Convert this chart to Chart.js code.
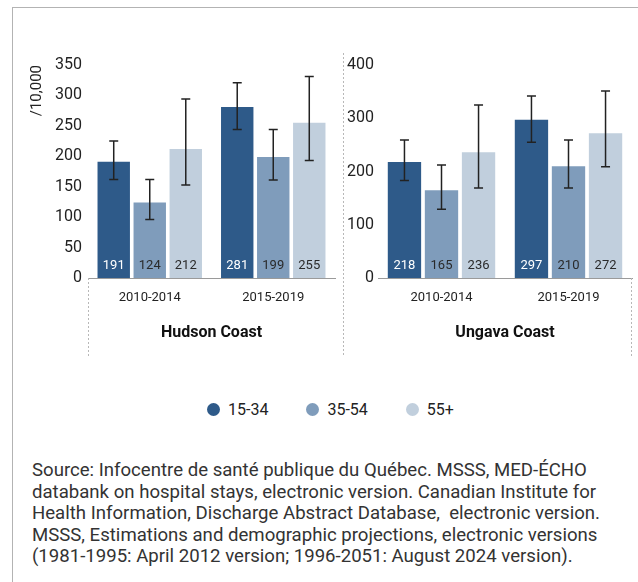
<!DOCTYPE html>
<html>
<head>
<meta charset="utf-8">
<script src="https://cdn.jsdelivr.net/npm/chart.js@4.4.1/dist/chart.umd.min.js"></script>
<style>
  body { margin: 0; background: #fff; font-family: Roboto, sans-serif; }
  #frame { position: absolute; left: 12px; top: 7px; width: 640px; height: 590px; border-left: 1px solid #b3b3b3; border-top: 1px solid #b3b3b3; }
  #hudson { position: absolute; left: 12px; top: 8px; }
  #ungava { position: absolute; left: 343px; top: 8px; }
  #legend { position: absolute; left: 207px; top: 400px; display: flex; gap: 38px; font-size: 16px; color: #222; line-height: 20px; }
  #legend span.dot { display: inline-block; width: 13px; height: 13px; border-radius: 50%; margin-right: 8px; vertical-align: -1px; }
  #source { position: absolute; left: 32px; top: 460px; font-size: 18.6px; line-height: 21.5px; color: #333; white-space: pre; }
</style>
</head>
<body>
<div id="frame"></div>
<canvas id="hudson" width="331" height="370"></canvas>
<canvas id="ungava" width="295" height="370"></canvas>
<div id="legend"></div>
<div id="source">Source: Infocentre de santé publique du Québec. MSSS, MED-ÉCHO
databank on hospital stays, electronic version. Canadian Institute for
Health Information, Discharge Abstract Database,  electronic version.
MSSS, Estimations and demographic projections, electronic versions
(1981-1995: April 2012 version; 1996-2051: August 2024 version).</div>

<script>
// data
const periods = ['2010-2014', '2015-2019'];
const ageGroups = ['15-34', '35-54', '55+'];
const ageColors = ['#2e5a89', '#7f9cbb', '#c1cfdd'];
const labelColors = ['#ffffff', '#2a2a2a', '#2a2a2a'];

// rates /10,000, one row per age group, one column per period
const hudsonValues = [[191, 281], [124, 199], [212, 255]];
const hudsonLower = [[162, 244], [96, 161], [153, 193]];
const hudsonUpper = [[225, 321], [162, 244], [294, 331]];

const ungavaValues = [[218, 297], [165, 210], [236, 272]];
const ungavaLower = [[183, 255], [129, 169], [169, 209]];
const ungavaUpper = [[259, 342], [212, 259], [325, 351]];

const FONT = 'Roboto';

// error bars from the lower/upper arrays
const errorBarPlugin = {
    id: 'errorBars',
    afterDatasetsDraw(chart, args, opts) {
        const { ctx } = chart;
        const y = chart.scales.y;
        ctx.save();
        ctx.strokeStyle = '#222';
        ctx.lineWidth = 1.5;
        chart.data.datasets.forEach((ds, i) => {
            chart.getDatasetMeta(i).data.forEach((bar, j) => {
                const top = y.getPixelForValue(opts.upper[i][j]);
                const bot = y.getPixelForValue(opts.lower[i][j]);
                ctx.beginPath();
                ctx.moveTo(bar.x, top); ctx.lineTo(bar.x, bot);
                ctx.moveTo(bar.x - 4.5, top); ctx.lineTo(bar.x + 4.5, top);
                ctx.moveTo(bar.x - 4.5, bot); ctx.lineTo(bar.x + 4.5, bot);
                ctx.stroke();
            });
        });
        ctx.restore();
    }
};

// value written at the foot of each bar
const barLabelPlugin = {
    id: 'barLabels',
    afterDatasetsDraw(chart) {
        const { ctx } = chart;
        const base = chart.scales.y.getPixelForValue(0);
        ctx.save();
        ctx.font = '13px ' + FONT;
        ctx.textAlign = 'center';
        ctx.textBaseline = 'middle';
        chart.data.datasets.forEach((ds, i) => {
            ctx.fillStyle = labelColors[i];
            chart.getDatasetMeta(i).data.forEach((bar, j) => {
                ctx.fillText(ds.data[j], bar.x, base - 12.5);
            });
        });
        ctx.restore();
    }
};

// dotted separators of the category axis
const dottedPlugin = {
    id: 'dotted',
    afterDraw(chart, args, opts) {
        const { ctx, chartArea } = chart;
        ctx.save();
        ctx.strokeStyle = '#b8b8b8';
        ctx.lineWidth = 1;
        ctx.setLineDash([2, 2]);
        ctx.beginPath();
        if (opts.left) {
            ctx.moveTo(chartArea.left + 0.5, chartArea.bottom);
            ctx.lineTo(chartArea.left + 0.5, 349);
        }
        if (opts.divider) {
            ctx.moveTo(0.5, 45);
            ctx.lineTo(0.5, 349);
        }
        if (opts.right) {
            ctx.moveTo(chartArea.right - 0.5, chartArea.bottom);
            ctx.lineTo(chartArea.right - 0.5, 349);
        }
        ctx.stroke();
        ctx.restore();
    }
};

function renderPanel(id, title, values, lower, upper, yMax, yStep, axisWidth, tickPad, padRight, yTitle, lines) {
    const ctx = document.getElementById(id).getContext('2d');
    return new Chart(ctx, {
        type: 'bar',
        data: {
            labels: periods,
            datasets: ageGroups.map((g, i) => ({
                label: g,
                data: values[i],
                backgroundColor: ageColors[i],
                categoryPercentage: 0.875,
                barPercentage: 0.9
            }))
        },
        plugins: [errorBarPlugin, barLabelPlugin, dottedPlugin],
        options: {
            responsive: false,
            animation: false,
            layout: { padding: { top: 57, right: padRight, bottom: 0, left: 0 } },
            plugins: {
                legend: { display: false },
                tooltip: { enabled: false },
                errorBars: { lower, upper },
                dotted: lines
            },
            scales: {
                x: {
                    grid: { display: false, drawTicks: false },
                    border: { display: true, color: '#9a9a9a', width: 1 },
                    ticks: { color: '#222', font: { family: FONT, size: 13 }, padding: 12 },
                    title: { display: true, text: title, color: '#111', font: { family: FONT, size: 16, weight: 'bold' }, padding: { top: 0, bottom: 35 } },
                    afterFit: s => { s.height = 100; }
                },
                y: {
                    min: 0,
                    max: yMax,
                    grid: { display: false, drawTicks: false },
                    border: { display: false },
                    ticks: { stepSize: yStep, color: '#222', font: { family: FONT, size: 16 }, padding: tickPad },
                    title: yTitle ? { display: true, text: yTitle, align: 'end', color: '#222', font: { family: FONT, size: 15 }, padding: { top: 16.5, bottom: 0 } } : { display: false },
                    afterFit: s => { s.width = axisWidth; }
                }
            }
        }
    });
}

renderPanel('hudson', 'Hudson Coast', hudsonValues, hudsonLower, hudsonUpper, 350, 50, 76, 6, 8, '/10,000', { left: true });
renderPanel('ungava', 'Ungava Coast', ungavaValues, ungavaLower, ungavaUpper, 400, 100, 35, 4, 6, null, { divider: true, right: true });

// legend
const legend = document.getElementById('legend');
ageGroups.forEach((g, i) => {
    const item = document.createElement('div');
    item.innerHTML = '<span class="dot" style="background:' + ageColors[i] + '"></span>' + g;
    legend.appendChild(item);
});
</script>
</body>
</html>
